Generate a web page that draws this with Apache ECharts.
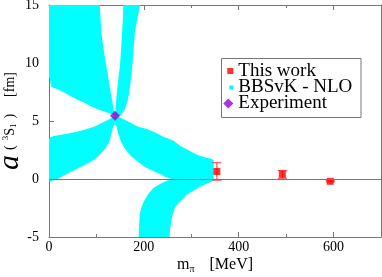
<!DOCTYPE html>
<html><head><meta charset="utf-8">
<script src="https://cdn.jsdelivr.net/npm/echarts@6/dist/echarts.min.js"></script>
<style>html,body{margin:0;padding:0;background:#fff}#c{width:382px;height:277px}</style>
</head><body><div id="c"></div>
<script>
// ---- data ----
const xRange = [0, 700];
const yRange = [-5, 15];
const xTickLabels = [0, 200, 400, 600];
const yTickLabels = [-5, 0, 5, 10, 15];

const thisWorkMpi = [354, 492, 593];
const thisWorkA = [0.65, 0.4, -0.2];
const thisWorkErr = [0.75, 0.33, 0.05];

const experimentMpi = [139];
const experimentA = [5.45];

// NLO uncertainty band, four branches (m_pi [MeV], a [fm]) outlines
const bandUpperLeft = [[0,15],[107,15],[110.5,12.6],[115,11.2],[121,9.7],[128,8.0],[135,6.3],[139,5.45],[134,5.55],[118,5.8],[100,6.05],[90,6.23],[76,6.55],[60,6.84],[45,7.15],[33,7.44],[20,7.7],[10,7.87],[4,8.0],[2,8.6],[0,8.8]];
const bandUpperRight = [[139,5.45],[142,7.0],[144.5,8.0],[147,8.9],[149.5,9.7],[152,11.2],[154,12.6],[156,14.0],[156.5,15],[192,15],[186,13.8],[181,12.6],[178,11.0],[175.6,9.7],[171,8.0],[166.5,6.85],[160,6.0],[150,5.4]];
const bandLowerLeft = [[139,5.45],[125,5.1],[110,4.8],[96.5,4.53],[80,4.3],[61,4.1],[40,3.92],[26,3.82],[10,3.7],[3,3.6],[0,3.45],[0,-0.2],[5,-0.2],[20,0.05],[38,0.45],[57,0.85],[77,1.25],[92,1.6],[105,2.0],[117,2.55],[126,3.1],[129,3.45],[132,3.95],[135,4.5],[139,4.75]];
const bandLowerRight = [[139,5.45],[150,5.3],[166,4.97],[188,4.5],[206,4.3],[224,4.0],[241,3.65],[263,3.3],[277,2.85],[295,2.45],[312,2.1],[330,1.85],[344,1.72],[347,1.6],[347,-0.1],[344,-0.2],[330,-0.45],[319,-0.64],[305,-1.0],[290,-1.35],[280,-1.8],[272,-2.1],[266,-2.4],[260,-3.2],[256,-4.1],[254,-5],[189,-5],[190,-4],[191.5,-2.93],[196,-2.3],[202,-1.78],[210,-1.25],[220,-0.78],[235,-0.4],[248,-0.15],[260,-0.02],[245,0.2],[231,0.5],[216,0.75],[206,0.95],[190,1.4],[174,1.95],[162,2.5],[153,3.1],[146,3.9],[142.5,4.5],[139,4.75]];
const bands = [bandUpperLeft, bandUpperRight, bandLowerLeft, bandLowerRight];

// ---- chart ----
const FONT = 'Liberation Serif';
const AX = '#777777';
const chart = echarts.init(document.getElementById('c'), null, {renderer: 'canvas'});

function xAxisBase(pos, interval, tickLen, extra) {
  return Object.assign({
    type: 'value', position: pos, min: xRange[0], max: xRange[1], interval: interval,
    axisLine: {show: true, onZero: false, lineStyle: {color: AX, width: 1}},
    axisTick: {show: true, inside: true, length: tickLen, lineStyle: {color: AX}},
    axisLabel: {show: false}, splitLine: {show: false}
  }, extra || {});
}

const option = {
  animation: false,
  backgroundColor: '#ffffff',
  grid: {left: 49, right: 1, top: 5, bottom: 40, containLabel: false, outerBoundsMode: 'none'},
  xAxis: [
    xAxisBase('bottom', 100, 3, {
      axisLabel: {show: true, margin: 3, color: '#000', fontFamily: FONT, fontSize: 14,
        formatter: v => xTickLabels.indexOf(v) >= 0 ? String(v) : ''},
      name: '{m|m}{sub|π}{n|[MeV]}',
      nameLocation: 'middle', nameGap: 18, nameMoveOverlap: false,
      nameTextStyle: {color: '#000', fontFamily: FONT,
        rich: {
          m: {fontSize: 16, fontFamily: FONT, color: '#000'},
          sub: {fontSize: 10, fontFamily: FONT, color: '#000', padding: [9, 0, 0, 0]},
          n: {fontSize: 16, fontFamily: FONT, color: '#000', padding: [0, 0, 0, 15]}
        }}
    }),
    xAxisBase('bottom', 200, 5, {axisLine: {show: false, onZero: false}}),
    xAxisBase('top', 100, 3),
    xAxisBase('top', 200, 5, {axisLine: {show: false, onZero: false}})
  ],
  yAxis: [
    {
      type: 'value', position: 'left', min: yRange[0], max: yRange[1], interval: 5,
      axisLine: {show: true, onZero: false, lineStyle: {color: AX, width: 1}},
      axisTick: {show: true, inside: true, length: 5, lineStyle: {color: AX}},
      axisLabel: {show: true, margin: 10, color: '#000', fontFamily: FONT, fontSize: 14,
        formatter: v => yTickLabels.indexOf(v) >= 0 ? String(v) : ''},
      splitLine: {show: false},
      name: '{a|a}{p|(}{sup|3}{s|S}{sub|1}{q|)}{n|[fm]}',
      nameLocation: 'middle', nameRotate: 90, nameGap: 24, nameMoveOverlap: false,
      nameTextStyle: {color: '#000', fontFamily: FONT,
        rich: {
          a: {fontSize: 30, fontStyle: 'italic', fontFamily: FONT, color: '#000', padding: [0, 5, 0, 0]},
          p: {fontSize: 14, fontFamily: FONT, color: '#000', padding: [0, 5, 0, 0]},
          sup: {fontSize: 9, fontFamily: FONT, color: '#000', padding: [0, 0, 8, 0]},
          s: {fontSize: 14, fontFamily: FONT, color: '#000'},
          sub: {fontSize: 9, fontFamily: FONT, color: '#000', padding: [7, 0, 0, 0]},
          q: {fontSize: 14, fontFamily: FONT, color: '#000', padding: [0, 0, 0, 5]},
          n: {fontSize: 14, fontFamily: FONT, color: '#000', padding: [0, 0, 0, 17]}
        }}
    },
    {
      type: 'value', position: 'right', min: yRange[0], max: yRange[1], interval: 5,
      axisLine: {show: true, onZero: false, lineStyle: {color: AX, width: 1}},
      axisTick: {show: false}, axisLabel: {show: false}, splitLine: {show: false}
    }
  ],
  legend: [
    {data: [{name: 'This work', icon: 'rect'}], left: 227.3, top: 61.5, orient: 'vertical',
      itemWidth: 6, itemHeight: 6, padding: 0, itemGap: 0, selectedMode: false,
      textStyle: {fontFamily: FONT, fontSize: 19, color: '#000', lineHeight: 16}},
    {data: [{name: 'BBSvK - NLO', icon: 'rect'}], left: 229.3, top: 78, orient: 'vertical',
      itemWidth: 4, itemHeight: 4, padding: 0, itemGap: 0, selectedMode: false,
      textStyle: {fontFamily: FONT, fontSize: 19, color: '#000', lineHeight: 16}},
    {data: [{name: 'Experiment', icon: 'diamond'}], left: 223.3, top: 94, orient: 'vertical',
      itemWidth: 10, itemHeight: 10, padding: 0, itemGap: 0, selectedMode: false,
      textStyle: {fontFamily: FONT, fontSize: 19, color: '#000', lineHeight: 16}}
  ],
  graphic: [{
    type: 'rect', z: 3, silent: true,
    shape: {x: 221.5, y: 58.5, width: 139.5, height: 59},
    style: {fill: '#ffffff', stroke: AX, lineWidth: 1}
  }],
  series: [
    {
      name: 'BBSvK - NLO', type: 'custom', z: 1, clip: true,
      itemStyle: {color: '#00ffff'},
      data: bands.map((b, i) => [b[0][0], b[0][1], i]),
      encode: {x: 0, y: 1},
      renderItem: function (params, api) {
        const poly = bands[api.value(2)];
        return {type: 'polygon', shape: {points: poly.map(p => api.coord(p))},
          style: {fill: '#00ffff', stroke: null}};
      }
    },
    {
      name: 'errbars', type: 'custom', z: 2, clip: false,
      data: thisWorkMpi.map((m, i) => [m, thisWorkA[i], thisWorkErr[i]]),
      encode: {x: 0, y: 1},
      renderItem: function (params, api) {
        const x = api.value(0), y = api.value(1), e = api.value(2);
        const t = api.coord([x, y + e]), b = api.coord([x, y - e]);
        const hw = 4.5, st = {stroke: '#ff3030', lineWidth: 1};
        return {type: 'group', children: [
          {type: 'line', shape: {x1: t[0], y1: t[1], x2: b[0], y2: b[1]}, style: st},
          {type: 'line', shape: {x1: t[0] - hw, y1: t[1], x2: t[0] + hw, y2: t[1]}, style: st},
          {type: 'line', shape: {x1: b[0] - hw, y1: b[1], x2: b[0] + hw, y2: b[1]}, style: st}
        ]};
      },
      markLine: {
        silent: true, symbol: 'none', label: {show: false},
        lineStyle: {color: AX, width: 1, type: 'solid'},
        data: [{yAxis: 0}]
      }
    },
    {
      name: 'This work', type: 'scatter', z: 3, symbol: 'rect', symbolSize: 7,
      itemStyle: {color: '#ff0000'},
      data: thisWorkMpi.map((m, i) => [m, thisWorkA[i]])
    },
    {
      name: 'Experiment', type: 'scatter', z: 4, symbol: 'diamond', symbolSize: 10,
      itemStyle: {color: '#9400d3'},
      data: experimentMpi.map((m, i) => [m, experimentA[i]])
    }
  ]
};
chart.setOption(option);
</script>
</body></html>
